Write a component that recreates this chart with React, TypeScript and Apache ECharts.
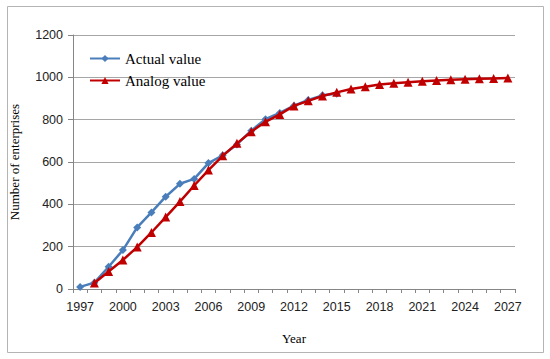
import React, { useEffect, useRef } from "react";
import * as echarts from "echarts";

const years: string[] = [
  "1997","1998","1999","2000","2001","2002","2003","2004","2005","2006",
  "2007","2008","2009","2010","2011","2012","2013","2014","2015","2016",
  "2017","2018","2019","2020","2021","2022","2023","2024","2025","2026","2027",
];

const actualValue: (number | null)[] = [
  10, 30, 105, 184, 291, 362, 436, 497, 520, 595,
  632, 683, 748, 802, 832, 866, 893, 915, 922, null,
  null, null, null, null, null, null, null, null, null, null, null,
];

const analogValue: (number | null)[] = [
  null, 28, 83, 137, 198, 267, 340, 413, 489, 562,
  629, 688, 743, 790, 825, 865, 889, 912, 929, 945,
  956, 966, 972, 977, 981, 985, 988, 991, 993, 995, 997,
];

const yTicks = { min: 0, max: 1200, interval: 200 };

export default function App() {
  const ref = useRef<HTMLDivElement>(null);
  useEffect(() => {
    if (!ref.current) return;
    const chart = echarts.init(ref.current, undefined, { renderer: "svg" });
    const serif = "'Liberation Serif', 'Times New Roman', serif";
    const sans = "'Liberation Sans', Arial, sans-serif";
    chart.setOption({
      animation: false,
      backgroundColor: "#ffffff",
      graphic: [
        {
          type: "rect",
          shape: { x: 7.5, y: 6.5, width: 536, height: 346 },
          style: { fill: "none", stroke: "#b4b4b4", lineWidth: 1 },
          silent: true,
        },
      ],
      grid: { left: 73, top: 35, width: 442, height: 254 },
      legend: {
        orient: "vertical",
        left: 84,
        top: 46,
        itemWidth: 30,
        itemHeight: 9,
        itemGap: 7,
        textStyle: { fontFamily: serif, fontSize: 15, color: "#000" },
        data: ["Actual value", "Analog value"],
      },
      xAxis: {
        type: "category",
        data: years,
        boundaryGap: true,
        name: "Year",
        nameLocation: "middle",
        nameGap: 43,
        nameTextStyle: { fontFamily: serif, fontSize: 13, color: "#000" },
        axisLine: { lineStyle: { color: "#868686", width: 1 } },
        axisTick: { show: true, interval: 0, length: 4, alignWithLabel: false, lineStyle: { color: "#868686" } },
        axisLabel: { interval: 2, fontFamily: sans, fontSize: 12.5, color: "#222", margin: 11 },
        splitLine: { show: false },
      },
      yAxis: {
        type: "value",
        min: yTicks.min,
        max: yTicks.max,
        interval: yTicks.interval,
        name: "Number of enterprises",
        nameLocation: "middle",
        nameGap: 52,
        nameTextStyle: { fontFamily: serif, fontSize: 13, color: "#000" },
        axisLine: { show: true, lineStyle: { color: "#868686", width: 1 } },
        axisTick: { show: true, length: 5, lineStyle: { color: "#868686" } },
        axisLabel: { fontFamily: sans, fontSize: 12.5, color: "#222", margin: 10, formatter: (v: number) => String(v) },
        splitLine: { show: true, lineStyle: { color: "#a6a6a6", width: 1 } },
      },
      series: [
        {
          name: "Actual value",
          type: "line",
          data: actualValue,
          symbol: "diamond",
          symbolSize: 8,
          color: "#4a7ebb",
          lineStyle: { width: 2.5, color: "#4a7ebb" },
          itemStyle: { color: "#4a7ebb" },
          z: 2,
        },
        {
          name: "Analog value",
          type: "line",
          data: analogValue,
          symbol: "triangle",
          symbolSize: 9,
          color: "#c00000",
          lineStyle: { width: 2.5, color: "#c00000" },
          itemStyle: { color: "#c00000" },
          z: 3,
        },
      ],
    });
    return () => chart.dispose();
  }, []);
  return <div ref={ref} style={{ width: 550, height: 359, position: "absolute", left: 0, top: 0 }} />;
}
